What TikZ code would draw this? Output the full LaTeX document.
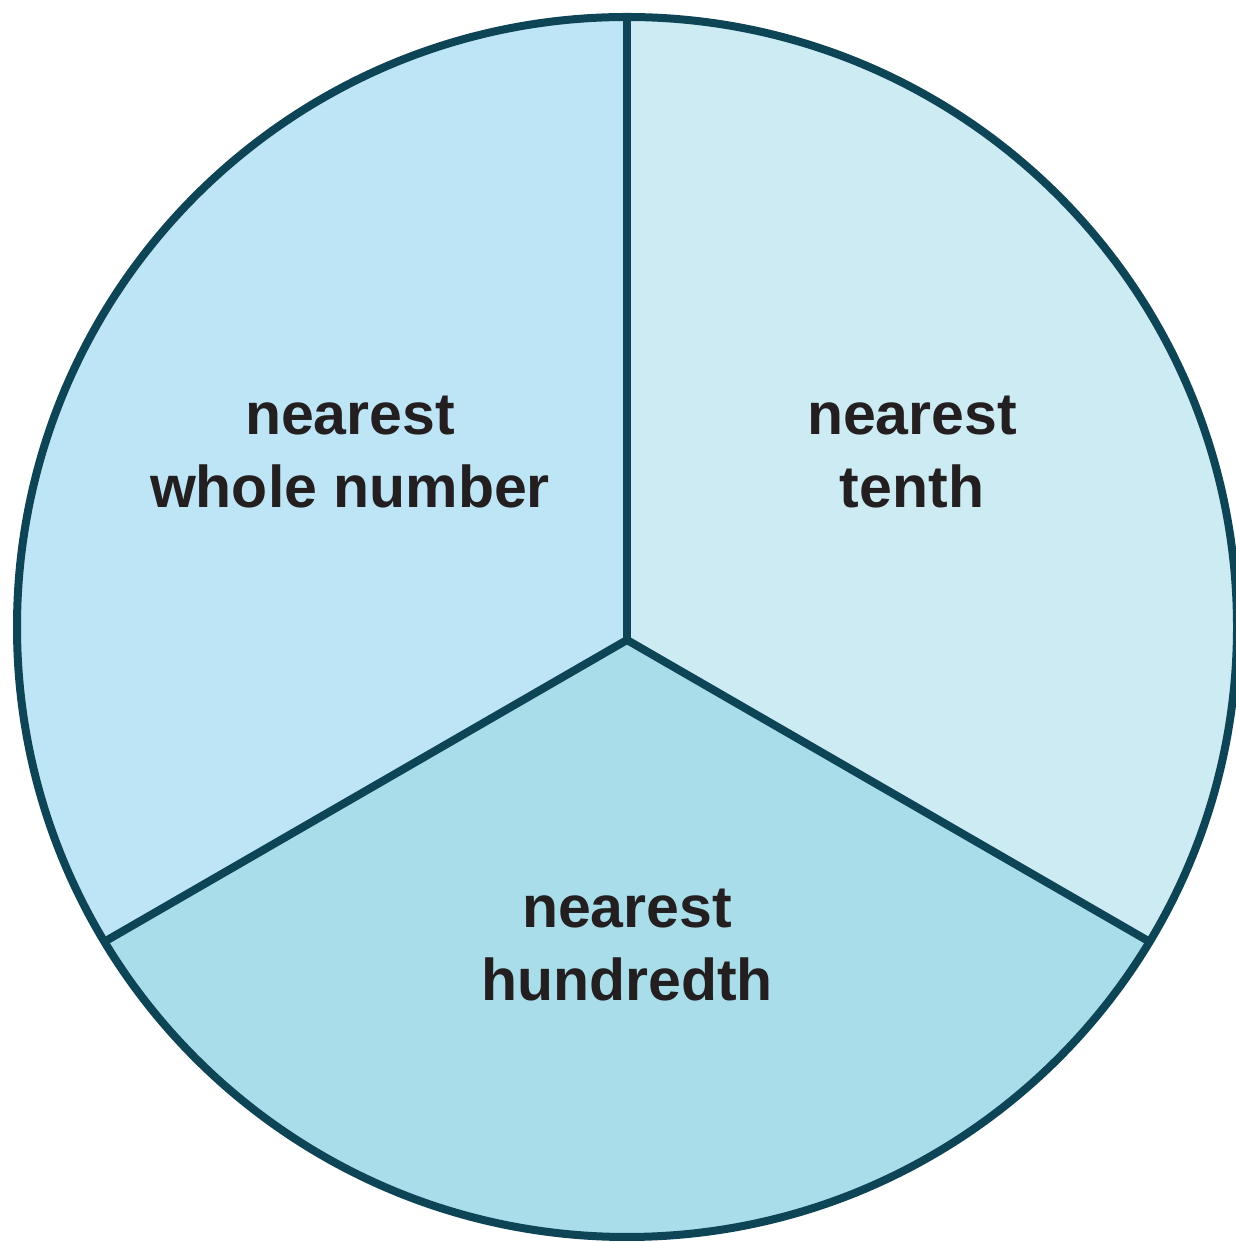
\documentclass[tikz,border=0pt]{standalone}
\usepackage{fontspec}
\setmainfont{Liberation Sans}
\usepackage{tikz}
\usetikzlibrary{calc}
\usepackage{xcolor}

\definecolor{pieedge}{HTML}{0D4456}
\definecolor{wholefill}{HTML}{BEE5F6}
\definecolor{tenthfill}{HTML}{CDEBF3}
\definecolor{hundfill}{HTML}{A9DDE9}
\definecolor{slicetextcol}{HTML}{231F20}

\begin{document}
\begin{tikzpicture}[
    x=1pt, y=1pt,
    slice/.style={draw=pieedge, line width=8pt, line join=round},
    slicetext/.style={font=\fontsize{59}{73}\selectfont\bfseries,
                      text=slicetextcol, align=center, inner sep=0pt}
  ]
  \useasboundingbox (0,0) rectangle (1235,1242);

  %% Centre of the circle and meeting point of the slices
  \coordinate (c) at (627,615);
  \coordinate (v) at (627,602);
  \coordinate (top) at (627,1225);
  \coordinate (lft) at ($(c)+(211.06:610)$);
  \coordinate (rgt) at ($(c)+(328.94:610)$);

  %% Slices
  \fill[wholefill] (v) -- (top) arc[start angle=90, end angle=211.06, radius=610] -- cycle;
  \fill[tenthfill] (v) -- (top) arc[start angle=90, end angle=-31.06, radius=610] -- cycle;
  \fill[hundfill] (v) -- (lft) arc[start angle=211.06, end angle=328.94, radius=610] -- cycle;

  %% Outline
  \draw[slice] (c) circle[radius=610];
  \draw[slice] (top) -- (v);
  \draw[slice] (lft) -- (v) -- (rgt);

  %% Labels
  \node[slicetext] (whole) at (350,790) {nearest\\whole number};
  \node[slicetext] (tenth) at (912,790) {nearest\\tenth};
  \node[slicetext] (hund) at (627,297) {nearest\\hundredth};

\end{tikzpicture}
\end{document}
